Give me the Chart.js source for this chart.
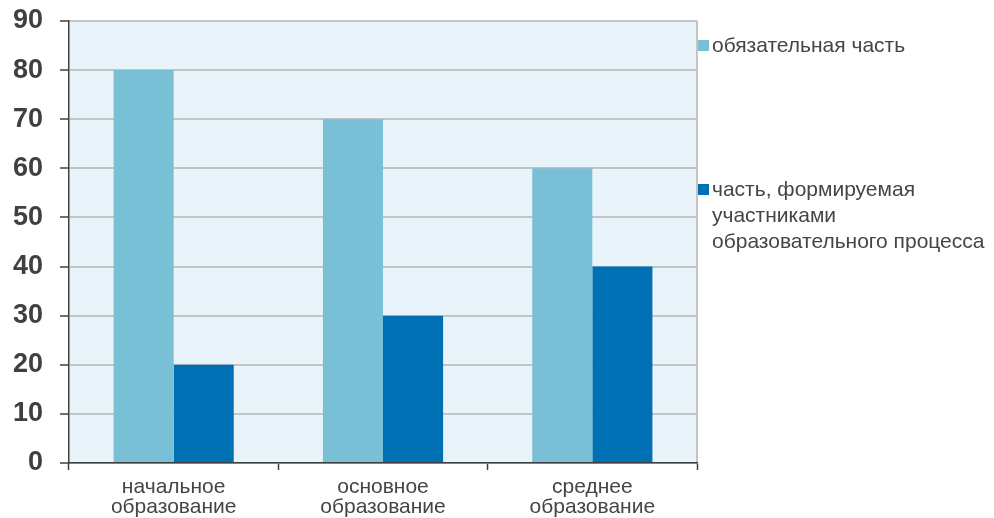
<!DOCTYPE html>
<html>
<head>
<meta charset="utf-8">
<script src="https://cdn.jsdelivr.net/npm/chart.js@4/dist/chart.umd.min.js"></script>
<style>
  html, body { margin: 0; padding: 0; background: #ffffff; }
  #wrap { width: 994px; height: 518px; position: relative; }
</style>
</head>
<body>
<div id="wrap"><canvas id="chart"></canvas></div>
<script>
// data
var categories = [["начальное", "образование"], ["основное", "образование"], ["среднее", "образование"]];
var mandatory = [80, 70, 60];
var formed = [20, 30, 40];
var seriesNames = ["обязательная часть", "часть, формируемая участниками образовательного процесса"];
var legendLines = [["обязательная часть"], ["часть, формируемая", "участниками", "образовательного процесса"]];
var colors = ["#79BFD6", "#0070B5"];

// light blue plot background + right border
var plotBg = {
    id: 'plotBg',
    beforeDraw: function (chart) {
        var a = chart.chartArea, ctx = chart.ctx;
        ctx.save();
        ctx.fillStyle = '#E8F4F9';
        ctx.fillRect(a.left, a.top, a.right - a.left, a.bottom - a.top);
        ctx.strokeStyle = '#C4C4C4';
        ctx.lineWidth = 2;
        ctx.beginPath();
        ctx.moveTo(a.right, a.top);
        ctx.lineTo(a.right, a.bottom);
        ctx.stroke();
        ctx.restore();
    }
};

// legend on the right, with wrapped text
var sideLegend = {
    id: 'sideLegend',
    afterDraw: function (chart) {
        var ctx = chart.ctx;
        var x = chart.chartArea.right;
        var tops = [46, 190];
        ctx.save();
        ctx.font = '21px "Liberation Sans", Arial, sans-serif';
        ctx.textBaseline = 'middle';
        ctx.textAlign = 'left';
        for (var i = 0; i < legendLines.length; i++) {
            ctx.fillStyle = chart.data.datasets[i].backgroundColor;
            ctx.fillRect(x + 1, tops[i] - 6, 11, 11);
            ctx.fillStyle = '#454545';
            for (var j = 0; j < legendLines[i].length; j++) {
                ctx.fillText(legendLines[i][j], x + 15, tops[i] + j * 26);
            }
        }
        ctx.restore();
    }
};

var chart = new Chart(document.getElementById('chart'), {
    type: 'bar',
    data: {
        labels: categories,
        datasets: [
            { label: seriesNames[0], data: mandatory, backgroundColor: colors[0] },
            { label: seriesNames[1], data: formed, backgroundColor: colors[1] }
        ]
    },
    options: {
        responsive: true,
        maintainAspectRatio: false,
        animation: false,
        layout: { padding: { top: 21, right: 297, left: 0, bottom: 0 } },
        datasets: { bar: { barPercentage: 1, categoryPercentage: 0.574 } },
        plugins: {
            legend: { display: false },
            tooltip: { enabled: false }
        },
        scales: {
            x: {
                grid: { display: true, drawOnChartArea: false, offset: true, tickLength: 7, tickColor: '#404040', tickWidth: 1.5 },
                border: { color: '#404040', width: 1.5 },
                ticks: { color: '#454545', font: { family: '"Liberation Sans", Arial, sans-serif', size: 21, lineHeight: 0.97 }, padding: 7 },
                afterFit: function (s) { s.height = 55; }
            },
            y: {
                min: 0, max: 90,
                grid: { color: '#C4C4C4', lineWidth: 2, tickLength: 9, tickColor: '#404040', tickWidth: 1.5 },
                border: { color: '#404040', width: 1.5 },
                ticks: { stepSize: 10, color: '#404040', font: { family: '"Liberation Sans", Arial, sans-serif', size: 27, weight: 'bold' }, padding: 17 },
                afterFit: function (s) { s.width = 69; s.paddingTop = 0; s.paddingBottom = 0; }
            }
        }
    },
    plugins: [plotBg, sideLegend]
});
</script>
</body>
</html>
